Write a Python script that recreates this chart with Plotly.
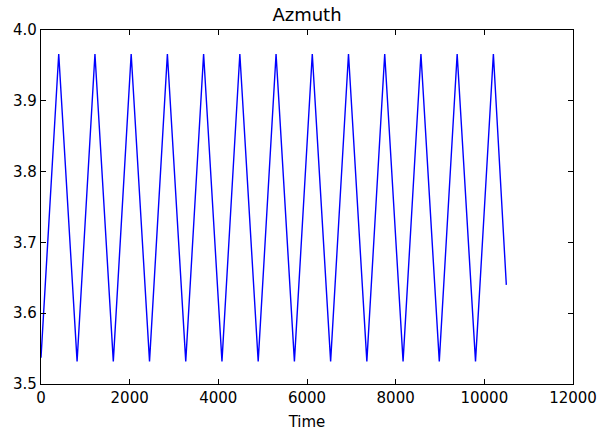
import plotly.graph_objects as go

# Turning points of the azimuth signal
time = [0, 400, 814, 1217, 1631, 2034, 2448, 2851, 3265, 3668, 4082, 4485, 4899,
        5302, 5716, 6119, 6533, 6936, 7350, 7753, 8167, 8570, 8984, 9387, 9801,
        10204, 10496]
azimuth = [3.537, 3.966, 3.532, 3.966, 3.532, 3.966, 3.532, 3.966, 3.532, 3.966,
           3.532, 3.966, 3.532, 3.966, 3.532, 3.966, 3.532, 3.966, 3.532, 3.966,
           3.532, 3.966, 3.532, 3.966, 3.532, 3.966, 3.640]

x_ticks = [0, 2000, 4000, 6000, 8000, 10000, 12000]
y_ticks = [3.5, 3.6, 3.7, 3.8, 3.9, 4.0]

FONT = "DejaVu Sans"

fig = go.Figure(go.Scatter(x=time, y=azimuth, mode="lines",
                           line=dict(color="#0000ff", width=1.4),
                           showlegend=False))

axis_common = dict(showgrid=False, zeroline=False, showline=True, linecolor="black",
                   linewidth=1.3, mirror="ticks", ticks="inside", ticklen=5,
                   tickwidth=1, tickcolor="black", automargin=False,
                   tickfont=dict(family=FONT, size=15, color="black"))

fig.update_xaxes(range=[0, 12000], tickvals=x_ticks,
                 ticktext=[str(v) for v in x_ticks],
                 title=dict(text="Time", font=dict(family=FONT, size=15, color="black"),
                            standoff=10),
                 **axis_common)
fig.update_yaxes(range=[3.5, 4.0], tickvals=y_ticks,
                 ticktext=[f"{v:.1f}" for v in y_ticks],
                 **axis_common)

fig.update_layout(
    width=600, height=432,
    margin=dict(l=41, r=27, t=30, b=48),
    paper_bgcolor="white", plot_bgcolor="white",
    title=dict(text="Azmuth", font=dict(family=FONT, size=18, color="black"),
               x=0.5, xanchor="center", xref="paper",
               y=1 - 15 / 432, yanchor="middle", yref="container"),
)

fig.write_html("out.html")
